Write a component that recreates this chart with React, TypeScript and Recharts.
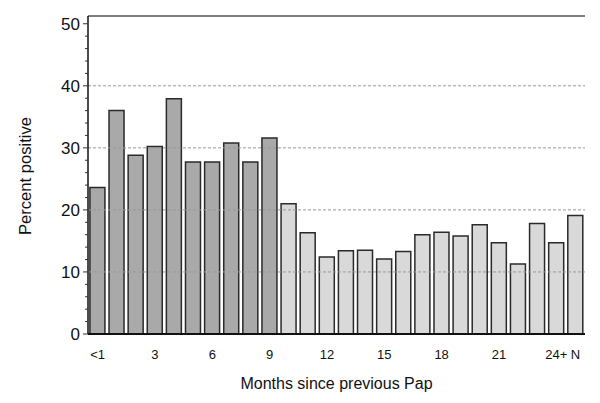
import { BarChart, Bar, Cell, XAxis, YAxis, ReferenceLine, Label } from 'recharts';

const months = [
  '<1', '1', '2', '3', '4', '5', '6', '7', '8', '9', '10', '11', '12',
  '13', '14', '15', '16', '17', '18', '19', '20', '21', '22', '23', '24+', 'N',
];
const percentPositive = [
  23.6, 36.0, 28.8, 30.2, 37.9, 27.7, 27.7, 30.8, 27.7, 31.6, 21.0, 16.3, 12.4,
  13.4, 13.5, 12.1, 13.3, 16.0, 16.4, 15.8, 17.6, 14.7, 11.3, 17.8, 14.7, 19.1,
];
// first 10 categories (<1 .. 9 months) are drawn darker
const earlyMonths = ['<1', '1', '2', '3', '4', '5', '6', '7', '8', '9'];
const shownMonthLabels = ['<1', '3', '6', '9', '12', '15', '18', '21', '24+', 'N'];
const yTicks = [0, 2, 4, 6, 8, 10, 12, 14, 16, 18, 20, 22, 24, 26, 28, 30, 32, 34, 36, 38, 40, 42, 44, 46, 48, 50];
const gridValues = [10, 20, 30, 40];
const yMax = 51.25;

const data = months.map((m, i) => ({ month: m, pct: percentPositive[i] }));

const FONT = '"Liberation Sans", Arial, sans-serif';

function YTick(props: any) {
  const { x, y, payload } = props;
  const major = payload.value % 10 === 0;
  return (
    <g>
      <line x1={x - (major ? 5 : 3)} x2={x} y1={y} y2={y} stroke="#333" strokeWidth={1} />
      {major && (
        <text x={x - 8} y={y} dy={6} textAnchor="end" fontSize={17} fill="#111" fontFamily={FONT}>
          {payload.value}
        </text>
      )}
    </g>
  );
}

function XTick(props: any) {
  const { x, y, payload } = props;
  if (!shownMonthLabels.includes(payload.value)) return null;
  return (
    <text x={x} y={y} dy={25} textAnchor="middle" fontSize={13} fill="#111" fontFamily={FONT}>
      {payload.value}
    </text>
  );
}

export default function App() {
  return (
    <div style={{ position: 'absolute', left: 0, top: 0, background: '#fff' }}>
      <BarChart
        width={600}
        height={403}
        data={data}
        margin={{ top: 16, right: 15, bottom: 0, left: 0 }}
        barCategoryGap="10%"
      >
        {gridValues.map((v) => (
          <ReferenceLine key={v} y={v} stroke="#999" strokeDasharray="3 2" strokeWidth={1} />
        ))}
        <ReferenceLine y={yMax} stroke="#555" strokeWidth={1.5} />
        <XAxis
          dataKey="month"
          type="category"
          interval={0}
          height={69}
          tickLine={false}
          tickSize={0}
          tickMargin={0}
          axisLine={{ stroke: '#111', strokeWidth: 2 }}
          tick={<XTick />}
        >
          <Label
            value="Months since previous Pap"
            position="insideBottom"
            offset={14}
            fontSize={16}
            fill="#111"
            fontFamily={FONT}
          />
        </XAxis>
        <YAxis
          type="number"
          domain={[0, yMax]}
          ticks={yTicks}
          interval={0}
          width={88}
          tickLine={false}
          tickSize={0}
          tickMargin={0}
          allowDataOverflow
          axisLine={{ stroke: '#111', strokeWidth: 1.5 }}
          tick={<YTick />}
        >
          <Label
            content={(p: any) => {
              const vb = p.viewBox || {};
              const cx = 25;
              const cy = (vb.y ?? 16) + (vb.height ?? 318) / 2 + 1;
              return (
                <text
                  x={cx}
                  y={cy}
                  transform={`rotate(-90, ${cx}, ${cy})`}
                  textAnchor="middle"
                  dominantBaseline="central"
                  fontSize={16.6}
                  fill="#111"
                  fontFamily={FONT}
                >
                  Percent positive
                </text>
              );
            }}
          />
        </YAxis>
        <YAxis yAxisId="right" orientation="right" width={0} domain={[0, yMax]} tick={false} tickLine={false} axisLine={{ stroke: '#111', strokeWidth: 1.5 }} />
        <Bar dataKey="pct" stroke="#2a2a2a" strokeWidth={1.5} isAnimationActive={false}>
          {data.map((d) => (
            <Cell key={d.month} fill={earlyMonths.includes(d.month) ? '#a9a9a9' : '#d9d9d9'} />
          ))}
        </Bar>
      </BarChart>
    </div>
  );
}
